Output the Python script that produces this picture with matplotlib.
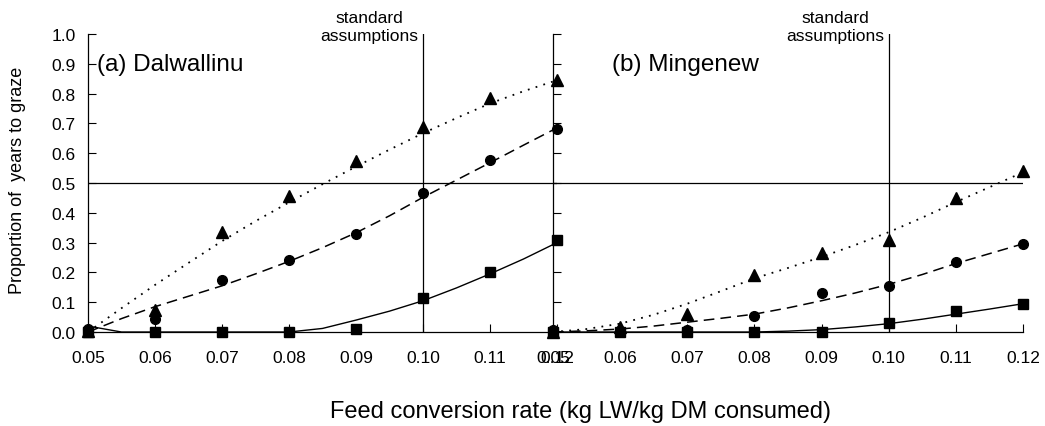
import matplotlib
matplotlib.use("Agg")
import matplotlib.pyplot as plt
import numpy as np

plt.rcParams['font.family'] = ['Liberation Sans', 'DejaVu Sans']

# feed conversion rates (x)
fcr = [0.05, 0.06, 0.07, 0.08, 0.09, 0.10, 0.11, 0.12]

# (a) Dalwallinu - observed points
dal_tri = [0.005, 0.073, 0.335, 0.456, 0.573, 0.687, 0.784, 0.846]
dal_circ = [0.01, 0.045, 0.175, 0.24, 0.33, 0.466, 0.578, 0.68]
dal_sq = [0.0, 0.0, 0.0, 0.0, 0.011, 0.115, 0.20, 0.31]

# (b) Mingenew - observed points
min_tri = [0.0, 0.017, 0.06, 0.19, 0.265, 0.31, 0.45, 0.54]
min_circ = [0.008, 0.003, 0.008, 0.054, 0.132, 0.156, 0.235, 0.296]
min_sq = [0.0, 0.0, 0.0, 0.0, 0.0, 0.03, 0.07, 0.095]

# trend lines
fcr_fine = [0.05, 0.055, 0.06, 0.065, 0.07, 0.075, 0.08, 0.085, 0.09,
            0.095, 0.10, 0.105, 0.11, 0.115, 0.12]
dal_tri_fit = [0.0, 0.08, 0.158, 0.232, 0.305, 0.372, 0.435, 0.496, 0.555,
               0.612, 0.667, 0.718, 0.767, 0.808, 0.845]
dal_circ_fit = [0.0, 0.045, 0.085, 0.12, 0.155, 0.195, 0.237, 0.283, 0.333,
                0.39, 0.452, 0.51, 0.568, 0.627, 0.685]
dal_sq_fit = [0.02, 0.0, 0.0, 0.0, 0.0, 0.0, 0.0, 0.012, 0.04,
              0.07, 0.105, 0.148, 0.195, 0.245, 0.30]
min_tri_fit = [0.0, 0.01, 0.028, 0.058, 0.095, 0.137, 0.18, 0.215, 0.252,
               0.292, 0.335, 0.384, 0.436, 0.486, 0.536]
min_circ_fit = [0.0, 0.004, 0.01, 0.02, 0.033, 0.046, 0.06, 0.081, 0.105,
                0.131, 0.16, 0.193, 0.23, 0.263, 0.296]
min_sq_fit = [0.0, 0.0, 0.0, 0.0, 0.0, 0.0, 0.0, 0.003, 0.008,
              0.017, 0.028, 0.043, 0.06, 0.077, 0.095]

ticks_x = [0.05, 0.06, 0.07, 0.08, 0.09, 0.10, 0.11, 0.12]
ticks_y = [0.0, 0.1, 0.2, 0.3, 0.4, 0.5, 0.6, 0.7, 0.8, 0.9, 1.0]

fig = plt.figure(figsize=(10.45, 4.27), dpi=100)
ax1 = fig.add_axes([0.0842, 0.2201, 0.4488, 0.6979])
ax2 = fig.add_axes([0.5292, 0.2201, 0.4498, 0.6979])
ax2.patch.set_visible(False)

panels = [
    (ax1, "(a) Dalwallinu", 0.0513, (dal_tri, dal_circ, dal_sq),
     (dal_tri_fit, dal_circ_fit, dal_sq_fit)),
    (ax2, "(b) Mingenew", 0.0588, (min_tri, min_circ, min_sq),
     (min_tri_fit, min_circ_fit, min_sq_fit)),
]

for ax, title, tx, pts, fits in panels:
    tri, circ, sq = pts
    tri_fit, circ_fit, sq_fit = fits

    ax.axhline(0.5, color='black', lw=0.9, zorder=1)
    ax.axvline(0.10, color='black', lw=0.9, zorder=1)

    ax.plot(fcr_fine, tri_fit, color='black', lw=1.3, linestyle=(0, (1, 3.5)))
    ax.plot(fcr_fine, circ_fit, color='black', lw=1.1, linestyle=(0, (7, 4)))
    ax.plot(fcr_fine, sq_fit, color='black', lw=1.0)

    ax.plot(fcr, tri, '^', color='black', ms=8.5, clip_on=False, zorder=5)
    ax.plot(fcr, circ, 'o', color='black', ms=7, clip_on=False, zorder=5)
    ax.plot(fcr, sq, 's', color='black', ms=6.5, clip_on=False, zorder=5)

    ax.set_xlim(0.05, 0.12)
    ax.set_ylim(0.0, 1.0)
    ax.set_xticks(ticks_x)
    ax.set_xticklabels(["%.2f" % v for v in ticks_x])
    ax.set_yticks(ticks_y)
    ax.tick_params(axis='x', direction='in', length=6, pad=13, labelsize=12.5)
    ax.tick_params(axis='y', direction='in', length=6, pad=9, labelsize=12.5)
    for s in ['top', 'right']:
        ax.spines[s].set_visible(False)
    ax.spines['left'].set_linewidth(0.9)
    ax.spines['bottom'].set_linewidth(0.9)

    ax.text(tx, 0.9, title, fontsize=17.5, va='center', ha='left')
    ax.text(0.0993, 1.025, "standard\nassumptions", fontsize=12.5,
            ha='right', va='center', multialignment='center', clip_on=False)

ax1.set_yticklabels(["%.1f" % v for v in ticks_y])
ax2.set_yticklabels([])

fig.text(580 / 1045, 1 - 412 / 427, "Feed conversion rate (kg LW/kg DM consumed)",
         fontsize=17, ha='center', va='center')
fig.text(18 / 1045, 1 - 180 / 427, "Proportion of  years to graze",
         fontsize=13, rotation=90, ha='center', va='center')

fig.savefig("out.png", dpi=100)
